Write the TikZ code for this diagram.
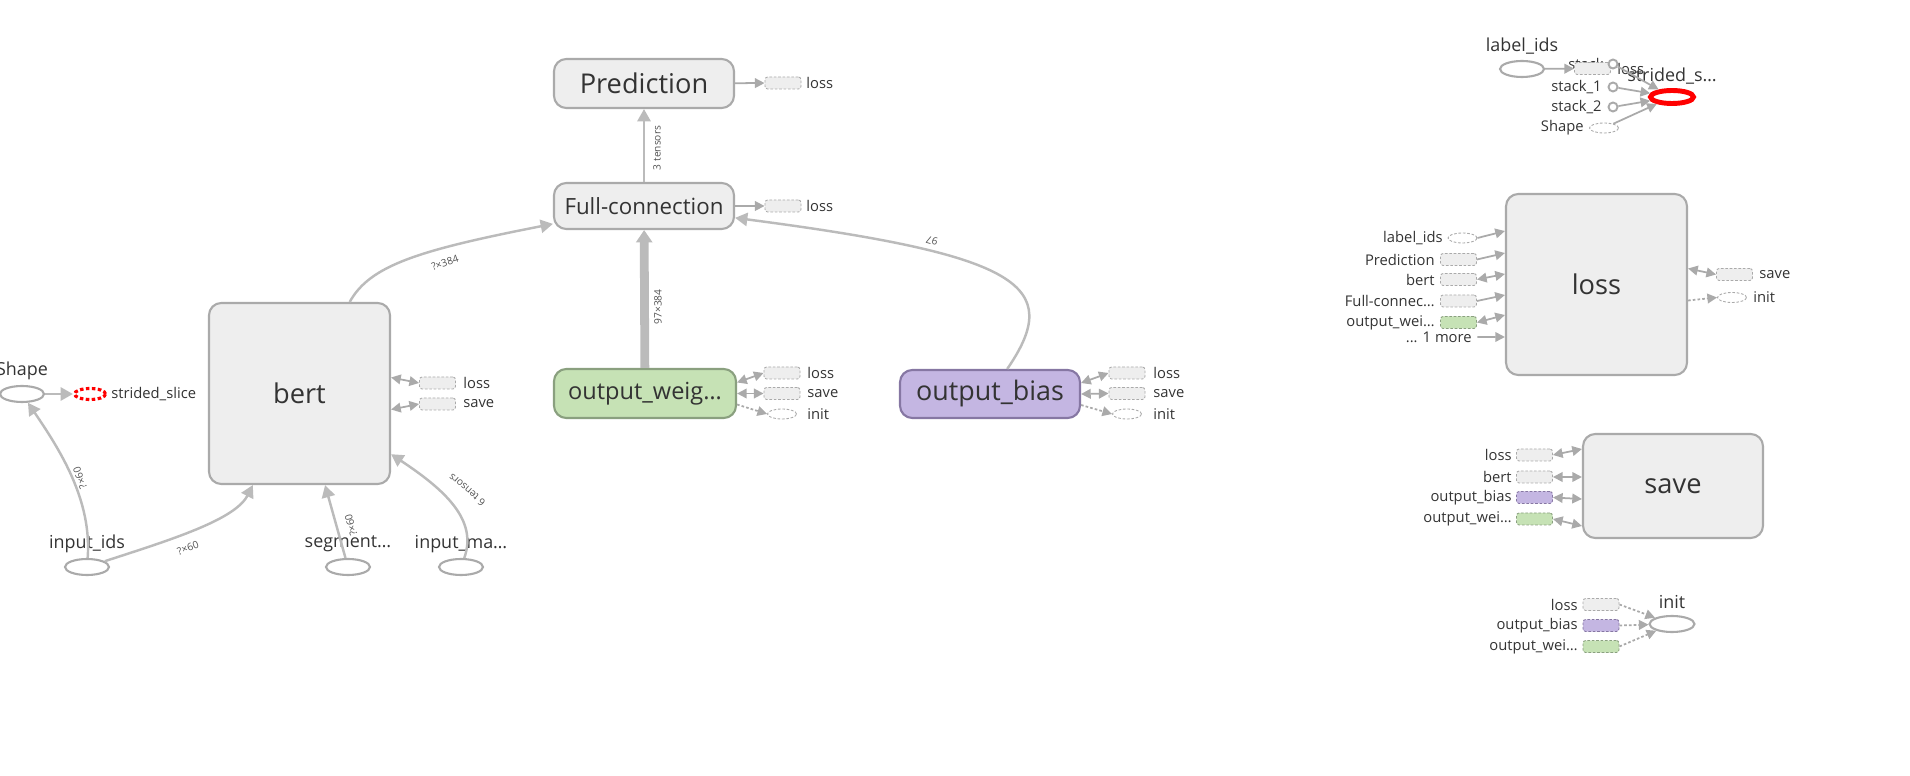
\documentclass[tikz,border=0pt]{standalone}
\usepackage{fontspec}
\setmainfont{Open Sans}
\usetikzlibrary{arrows.meta,shapes.geometric}

\definecolor{boxfill}{HTML}{EEEEEE}
\definecolor{boxline}{HTML}{AAAAAA}
\definecolor{edgegray}{HTML}{BBBBBB}
\definecolor{txt}{HTML}{333333}
\definecolor{wfill}{HTML}{C6E2B5}
\definecolor{wline}{HTML}{8AA07F}
\definecolor{bfill}{HTML}{C4B6E2}
\definecolor{bline}{HTML}{8677A3}

\newdimen\gpx \gpx=0.02cm
\newcommand\szbig{\fontsize{15.5}{16}\selectfont}
\newcommand\szmid{\fontsize{12.7}{13}\selectfont}
\newcommand\szoval{\fontsize{10.2}{11}\selectfont}
\newcommand\szstub{\fontsize{8.4}{9}\selectfont}
\newcommand\szedge{\fontsize{5.8}{6}\selectfont}

\tikzset{
  opbox/.style={draw=boxline, fill=boxfill, line width=1.2pt, rounded corners=7pt,
    text=txt, inner sep=0pt},
  oval/.style={ellipse, draw=boxline, fill=white, line width=1.2pt, inner sep=0pt,
    minimum width=44\gpx, minimum height=16\gpx},
  ring/.style={circle, draw=boxline, fill=white, line width=1.1pt, inner sep=0pt,
    minimum size=9\gpx},
  stub/.style={draw=boxline, fill=boxfill, line width=0.5pt, dash pattern=on 1.5pt off 1pt,
    rounded corners=1.5pt, inner sep=0pt, minimum width=36\gpx, minimum height=12\gpx},
  stubov/.style={stub, ellipse, fill=white, minimum width=29\gpx, minimum height=10\gpx},
  oplab/.style={font=\szoval, text=txt, inner sep=0pt},
  stublab/.style={font=\szstub, text=txt, inner sep=0pt},
  elab/.style={font=\szedge, text=txt!85, inner sep=0pt},
  edge/.style={draw=edgegray, line width=1.4pt, -{Triangle[length=7pt,width=7.5pt]}},
  link/.style={draw=boxline, line width=1pt, -{Triangle[length=5.5pt,width=5.5pt]}},
  biLink/.style={link, {Triangle[length=5.5pt,width=5.5pt]}-{Triangle[length=5.5pt,width=5.5pt]}},
  dLink/.style={link, dash pattern=on 1.5pt off 1.2pt}
}

\begin{document}
\begin{tikzpicture}[x=0.02cm, y=-0.02cm]
  \useasboundingbox (0,0) rectangle (1910,776);

  % --- main graph: inputs and bert ---
  \node[oval] (shp) at (22,394) {};
  \node[oplab] (shp-t) at (22,371) {Shape};
  \node[ellipse, draw=red, line width=1.8pt, dash pattern=on 2pt off 1.4pt, inner sep=0pt,
    minimum width=31\gpx, minimum height=11\gpx] (sslice) at (90,394) {};
  \node[stublab, anchor=west] (sslice-t) at (111,394) {strided\_slice};
  \draw[edge] (shp) -- (sslice);

  \node[opbox, font=\szbig, minimum width=181\gpx, minimum height=181\gpx] (bert) at (299.5,393.5) {bert};
  \node[stub] (bert-l) at (437.5,383) {};
  \node[stublab, anchor=west] (bert-lt) at (463,383) {loss};
  \node[stub] (bert-s) at (437.5,404) {};
  \node[stublab, anchor=west] (bert-st) at (463,404) {save};
  \draw[biLink] ([shift={(0,-16)}]bert.east) -- (bert-l.west);
  \draw[biLink] ([shift={(0,16)}]bert.east) -- (bert-s.west);

  \node[oval] (inids) at (87,567) {};
  \node[oplab] (inids-t) at (87,544) {input\_ids};
  \node[oval] (segid) at (348,567) {};
  \node[oplab] (segid-t) at (348,544) {segment…};
  \node[oval] (inmask) at (461,567) {};
  \node[oplab] (inmask-t) at (461,544) {input\_ma…};

  \draw[edge] (inids) .. controls (92,500) and (60,450) .. (shp);
  \draw[edge] (inids) .. controls (170,540) and (235,520) .. (bert);
  \draw[edge] (segid) -- (bert);
  \draw[edge] (inmask) .. controls (478,520) and (445,490) .. (bert);
  \node[elab, rotate=110] (e1) at (80,478) {?×60};
  \node[elab, rotate=20] (e2) at (188,548) {?×60};
  \node[elab, rotate=105] (e3) at (351,525) {?×60};
  \node[elab, rotate=140] (e4) at (467,490) {6 tensors};

  % --- Full-connection and Prediction ---
  \node[opbox, font=\fontsize{15.5}{16}\selectfont, minimum width=180\gpx, minimum height=49\gpx] (pred) at (644,83.5) {Prediction};
  \node[stub] (pred-l) at (783,83) {};
  \node[stublab, anchor=west] (pred-lt) at (806,83) {loss};
  \draw[link] (pred) -- (pred-l);

  \node[opbox, font=\szmid, minimum width=180\gpx, minimum height=46\gpx] (fc) at (644,206) {Full-connection};
  \node[stub] (fc-l) at (783,206) {};
  \node[stublab, anchor=west] (fc-lt) at (806,206) {loss};
  \draw[link] (fc) -- (fc-l);
  \draw[edge] (fc) -- (pred);
  \node[elab, rotate=90] (e5) at (657,148) {3 tensors};

  \draw[edge] (bert) .. controls (370,265) and (420,250) .. (fc);
  \node[elab, rotate=19] (e6) at (445,263) {?×384};

  % --- variables ---
  \node[opbox, draw=wline, fill=wfill, font=\fontsize{13.4}{14}\selectfont,
    minimum width=182\gpx, minimum height=49\gpx] (ow) at (645,393.5) {output\_weig…};
  \draw[draw=edgegray, line width=5pt, -{Triangle[length=7pt,width=9pt]}] (ow) -- (fc);
  \node[elab, rotate=90] (e7) at (658,307) {97×384};

  \node[stub] (ow-l) at (782,373) {};
  \node[stublab, anchor=west] (ow-lt) at (807,373) {loss};
  \node[stub] (ow-s) at (782,393.5) {};
  \node[stublab, anchor=west] (ow-st) at (807,393.5) {save};
  \node[stubov] (ow-i) at (782,414) {};
  \node[stublab, anchor=west] (ow-it) at (807,414) {init};
  \draw[biLink] ([shift={(0,-11)}]ow.east) -- (ow-l.west);
  \draw[biLink] (ow.east) -- (ow-s.west);
  \draw[dLink] ([shift={(0,11)}]ow.east) -- (ow-i.west);

  \node[opbox, draw=bline, fill=bfill, font=\fontsize{15.3}{16}\selectfont,
    minimum width=180\gpx, minimum height=48\gpx] (ob) at (990,394) {output\_bias};
  \draw[edge] (ob) .. controls (1065,285) and (1020,255) .. (fc);
  \node[elab, rotate=165] (e8) at (932,241) {97};

  \node[stub] (ob-l) at (1127,373) {};
  \node[stublab, anchor=west] (ob-lt) at (1153,373) {loss};
  \node[stub] (ob-s) at (1127,393.5) {};
  \node[stublab, anchor=west] (ob-st) at (1153,393.5) {save};
  \node[stubov] (ob-i) at (1127,414) {};
  \node[stublab, anchor=west] (ob-it) at (1153,414) {init};
  \draw[biLink] ([shift={(0,-11)}]ob.east) -- (ob-l.west);
  \draw[biLink] (ob.east) -- (ob-s.west);
  \draw[dLink] ([shift={(0,11)}]ob.east) -- (ob-i.west);

  % --- label_ids / strided_slice ---
  \node[oval] (lid) at (1522,69) {};
  \node[oplab] (lid-t) at (1522,46) {label\_ids};
  \node[stublab, anchor=east] (stk-t) at (1604,64) {stack};
  \node[stub] (lid-l) at (1592.5,68.5) {};
  \draw[link] (lid) -- (lid-l);
  \node[ring] (stk) at (1613,64) {};
  \node[ring] (stk1) at (1613,87) {};
  \node[stublab, anchor=east] (stk1-t) at (1602,87) {stack\_1};
  \node[ring] (stk2) at (1613,107) {};
  \node[stublab, anchor=east] (stk2-t) at (1602,107) {stack\_2};
  \node[stubov] (shp2) at (1604,128) {};
  \node[stublab, anchor=east] (shp2-t) at (1584,128) {Shape};
  \node[ellipse, draw=red, line width=2.8pt, fill=white, inner sep=0pt,
    minimum width=43\gpx, minimum height=13\gpx] (ss2) at (1672,97) {};
  \node[stublab, anchor=west] (lid-lt) at (1617,69) {loss};
  \node[oplab] (ss2-t) at (1672,76) {strided\_s…};
  \foreach \s in {stk,stk1,stk2,shp2}
    \draw[link] (\s) -- (ss2);

  % --- loss ---
  \node[opbox, font=\szbig, minimum width=181\gpx, minimum height=181\gpx] (lossb) at (1596.5,284.5) {loss};
  \node[stubov] (lb-lid) at (1462.5,238) {};
  \node[stublab, anchor=east] (lb-lid-t) at (1443,238) {label\_ids};
  \node[stub] (lb-pred) at (1458.5,259.5) {};
  \node[stublab, anchor=east] (lb-pred-t) at (1435,259.5) {Prediction};
  \node[stub] (lb-bert) at (1458.5,279.5) {};
  \node[stublab, anchor=east] (lb-bert-t) at (1435,279.5) {bert};
  \node[stub] (lb-fc) at (1458.5,301) {};
  \node[stublab, anchor=east] (lb-fc-t) at (1435,301) {Full-connec…};
  \node[stub, fill=wfill, draw=wline] (lb-ow) at (1458.5,322.5) {};
  \node[stublab, anchor=east] (lb-ow-t) at (1435,322.5) {output\_wei…};
  \node[stublab, anchor=east] (lb-more) at (1472,337) {... 1 more};
  \draw[link] (lb-lid.east) -- ([shift={(0,-53.5)}]lossb.west);
  \draw[link] (lb-pred.east) -- ([shift={(0,-31.5)}]lossb.west);
  \draw[biLink] (lb-bert.east) -- ([shift={(0,-10.5)}]lossb.west);
  \draw[link] (lb-fc.east) -- ([shift={(0,10.5)}]lossb.west);
  \draw[biLink] (lb-ow.east) -- ([shift={(0,30.5)}]lossb.west);
  \draw[link] ([xshift=3pt]lb-more.east) -- ([shift={(0,52.5)}]lossb.west);

  \node[stub] (lb-s) at (1734.5,274.5) {};
  \node[stublab, anchor=west] (lb-st) at (1759,275) {save};
  \node[stubov] (lb-i) at (1732,297.5) {};
  \node[stublab, anchor=west] (lb-it) at (1753,297.5) {init};
  \draw[biLink] ([shift={(0,-16)}]lossb.east) -- (lb-s.west);
  \draw[dLink] ([shift={(0,16)}]lossb.east) -- (lb-i.west);

  % --- save ---
  \node[opbox, font=\szbig, minimum width=180\gpx, minimum height=104\gpx] (saveb) at (1673,486) {save};
  \node[stub] (sv-l) at (1534.5,455) {};
  \node[stublab, anchor=east] (sv-lt) at (1512,455) {loss};
  \node[stub] (sv-b) at (1534.5,477) {};
  \node[stublab, anchor=east] (sv-bt) at (1512,477) {bert};
  \node[stub, fill=bfill, draw=bline] (sv-ob) at (1534.5,497.5) {};
  \node[stublab, anchor=east] (sv-obt) at (1512,497.5) {output\_bias};
  \node[stub, fill=wfill, draw=wline] (sv-ow) at (1534.5,519) {};
  \node[stublab, anchor=east] (sv-owt) at (1512,519) {output\_wei…};
  \draw[biLink] (sv-l.east) -- ([shift={(0,-37)}]saveb.west);
  \draw[biLink] (sv-b.east) -- ([shift={(0,-9)}]saveb.west);
  \draw[biLink] (sv-ob.east) -- ([shift={(0,13)}]saveb.west);
  \draw[biLink] (sv-ow.east) -- ([shift={(0,40)}]saveb.west);

  % --- init ---
  \node[oval, minimum width=45\gpx] (initn) at (1672,624) {};
  \node[oplab] (initn-t) at (1672,602) {init};
  \node[stub] (in-l) at (1601,604.5) {};
  \node[stublab, anchor=east] (in-lt) at (1578,604.5) {loss};
  \node[stub, fill=bfill, draw=bline] (in-ob) at (1601,625.5) {};
  \node[stublab, anchor=east] (in-obt) at (1578,625.5) {output\_bias};
  \node[stub, fill=wfill, draw=wline] (in-ow) at (1601,646.5) {};
  \node[stublab, anchor=east] (in-owt) at (1578,646.5) {output\_wei…};
  \foreach \s in {in-l,in-ob,in-ow}
    \draw[dLink] (\s.east) -- (initn);
\end{tikzpicture}
\end{document}
